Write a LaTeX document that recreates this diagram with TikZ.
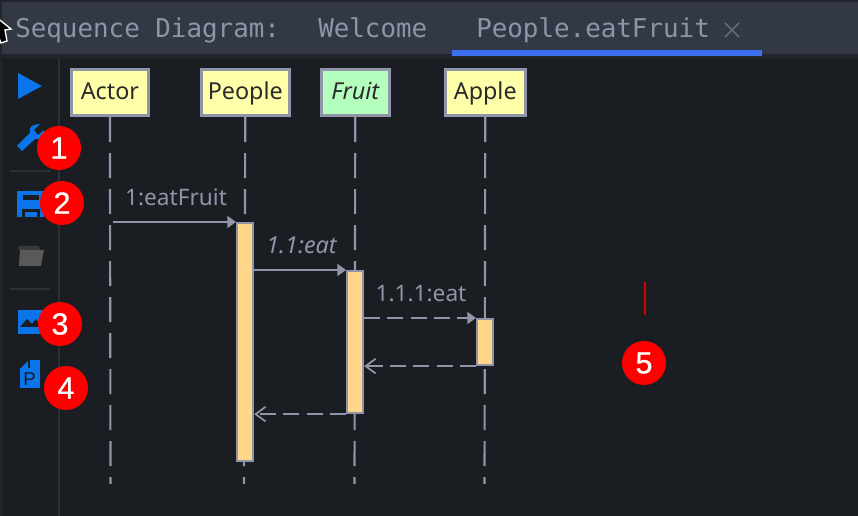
\documentclass[tikz,border=0pt]{standalone}
\usepackage{fontspec}
\setmainfont{Noto Sans}
\newfontfamily\tabfont{DejaVu Sans Mono}
\newfontfamily\badgefont[FakeBold=0.6]{Liberation Sans}
\newfontfamily\pfont{Liberation Sans}
\usetikzlibrary{arrows.meta}
\definecolor{bgmain}{HTML}{1A1D22}
\definecolor{bgtab}{HTML}{333845}
\definecolor{edge}{HTML}{22252B}
\definecolor{tabtxt}{HTML}{8F95A8}
\definecolor{linec}{HTML}{9096A8}
\definecolor{boxy}{HTML}{FFFFAA}
\definecolor{boxg}{HTML}{B4FFBE}
\definecolor{act}{HTML}{FFD68A}
\definecolor{ink}{HTML}{2A2A2A}
\definecolor{iconblue}{HTML}{0A74EA}
\definecolor{tabblue}{HTML}{3D70F0}
\definecolor{sep}{HTML}{2B2F36}
\tikzset{
  x=0.75pt,y=-0.75pt,
  tabtext/.style={font=\tabfont\fontsize{19.4}{22}\selectfont,text=tabtxt,anchor=base west,inner sep=0pt},
  lifebox/.style={draw=linec,line width=1.9pt,minimum height=34.5pt,inner sep=0pt,text height=13pt,text depth=3pt,text=ink,font=\fontsize{17.5}{20}\selectfont,anchor=north west},
  actbar/.style={draw=linec,line width=1.6pt,fill=act,inner sep=0pt,minimum width=12pt,anchor=north west},
  lifeline/.style={draw=linec,line width=1.6pt,dash pattern=on 18.9pt off 8.1pt},
  callmsg/.style={draw=linec,line width=1.5pt,-{Triangle[length=6.5pt,width=9pt,fill=linec]}},
  asyncmsg/.style={callmsg,dash pattern=on 12pt off 5.5pt},
  retmsg/.style={draw=linec,line width=1.5pt,dash pattern=on 12pt off 5.5pt,-{Straight Barb[length=7.5pt,width=11pt,line width=1.3pt]}},
  msglabel/.style={text=tabtxt,font=\fontsize{17}{19}\selectfont,anchor=base,inner sep=0pt},
  badge/.style={circle,fill=red,text=white,minimum size=33pt,inner sep=0pt,font=\badgefont\fontsize{23}{25}\selectfont},
  sepline/.style={draw=sep,line width=1.2pt},
}
\begin{document}
\begin{tikzpicture}
\useasboundingbox (0,0) rectangle (858,516);
\fill[edge] (0,0) rectangle (858,516);
\fill[bgmain] (2,58) rectangle (858,516);
\fill[bgtab] (2,2) rectangle (858,54);
\draw[sepline] (59,58) -- (59,516);
\draw[sepline] (10,171) -- (50,171);
\draw[sepline] (10,289) -- (50,289);
% cursor
\draw[white,line width=1pt,fill=black] (-4,17) -- (11,29) -- (5,30) -- (7,41) -- (1,43) -- (-3,33) -- cycle;
% tabs
\node[tabtext] (t1) at (15,38) {Sequence Diagram:};
\node[tabtext] (t2) at (318,38) {Welcome};
\node[tabtext] (t3) at (476,38) {People.eatFruit};
\draw[color=tabtxt!55!bgtab,line width=1.1pt] (725,23) -- (739,37) (739,23) -- (725,37);
\fill[tabblue] (452,50) rectangle (762,56);
% toolbar icons
\fill[iconblue] (18,73) -- (42,86) -- (18,99) -- cycle;
\fill[iconblue] (17,146) -- (30,133) .. controls (28,127) and (33,124) .. (40,124) -- (34,130) -- (38,135) -- (44,130) .. controls (45,136) and (41,141) .. (35,139) -- (22,151) -- cycle;
\fill[iconblue] (17,191) rectangle (44,217);
\fill[bgmain] (23,195) rectangle (39,200);
\fill[bgmain] (22,209) rectangle (40,217);
\fill[iconblue] (25,212) rectangle (37,217);
\fill[gray!45!black] (18,248) -- (20,246) -- (39,246) -- (40,251) -- (20,251) -- cycle;
\fill[gray!70!black] (20,250) -- (44,250) -- (41,266) -- (19,266) -- cycle;
\fill[iconblue] (18,310) rectangle (44,334);
\fill[bgmain] (20,327) -- (27,319) -- (32,324) -- (36,319) -- (42,327) -- cycle;
\fill[iconblue] (20,360) -- (40,360) -- (40,388) -- (20,388) -- cycle;
\fill[bgmain] (20,360) -- (30,360) -- (30,368) -- (20,368) -- cycle;
\fill[iconblue] (21,368) -- (28,361) -- (28,368) -- cycle;
\node[inner sep=0pt,text=bgmain,font=\pfont\fontsize{14}{15}\selectfont] (pp) at (29.5,379) {P};
% lifelines
\node[lifebox,fill=boxy,minimum width=58pt] (actor) at (70,68.5) {Actor};
\node[lifebox,fill=boxy,minimum width=66pt] (people) at (200,68.5) {People};
\node[lifebox,fill=boxg,minimum width=51pt] (fruit) at (320,68.5) {\itshape Fruit};
\node[lifebox,fill=boxy,minimum width=60pt] (apple) at (444,68.5) {Apple};
\coordinate (actorEnd) at (110.5,484);
\coordinate (peopleEnd) at (244,484);
\coordinate (fruitEnd) at (354.5,484);
\coordinate (appleEnd) at (484.5,484);
\draw[lifeline] (actor.south) ++(0,0) -- (actorEnd);
\draw[lifeline] (people.south) -- (peopleEnd);
\draw[lifeline] (fruit.south) -- (fruitEnd);
\draw[lifeline] (apple.south) -- (appleEnd);
% activations
\node[actbar,minimum height=178.5pt] (aP) at (236,222) {};
\node[actbar,minimum height=106.5pt] (aF) at (346,270) {};
\node[actbar,minimum height=34.5pt] (aA) at (476,318) {};
% messages
\coordinate (m1s) at (113,222);
\draw[callmsg] (m1s) -- (aP.north west);
\draw[callmsg] (aP.east |- aF.north) -- (aF.north west);
\draw[asyncmsg] (aF.east |- aA.north) -- (aA.north west);
\draw[retmsg] (aA.south west) -- (aF.east |- aA.south);
\draw[retmsg] (aF.south west) -- (aP.east |- aF.south);
\node[msglabel] (l1) at (176,206) {1:eatFruit};
\node[msglabel] (l2) at (301.5,254) {\fontsize{17.5}{19}\selectfont\itshape 1.1:eat};
\node[msglabel] (l3) at (421,302) {1.1.1:eat};
% caret
\coordinate (c1) at (645,282);
\coordinate (c2) at (645,315);
\draw[red!85!black,line width=1pt] (c1) -- (c2);
% badges
\node[badge] (b1) at (59,148) {1};
\node[badge] (b2) at (62,203) {2};
\node[badge] (b3) at (60,324) {3};
\node[badge] (b4) at (66,388) {4};
\node[badge] (b5) at (644,363) {5};
\end{tikzpicture}
\end{document}
